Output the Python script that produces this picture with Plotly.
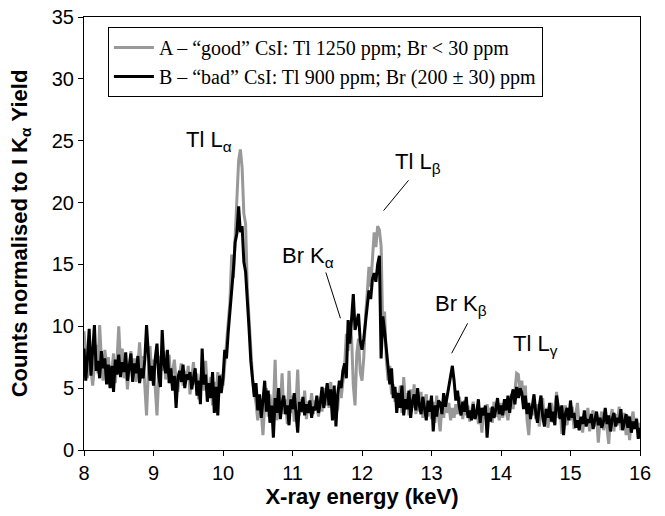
import plotly.graph_objects as go

# ---------------- data ----------------
energy_start = 8.0
energy_step = 0.025
n_points = 321
energy_keV = [round(energy_start + energy_step * i, 3) for i in range(n_points)]

# Sample A - "good" CsI (grey)
counts_A = [
    9.6, 7.3, 5.8, 8.8, 6.5, 5.2, 7.0, 8.5, 6.2, 10.1, 7.4, 5.6, 8.1, 6.7, 7.5, 5.9, 6.3, 7.8, 5.4, 7.2,
    10.0, 6.9, 8.2, 5.8, 7.1, 4.9, 6.6, 8.0, 6.0, 7.4, 5.5, 6.8, 8.7, 6.4, 7.6, 5.3, 2.8, 6.2, 8.4, 6.0,
    7.3, 5.0, 2.8, 5.9, 7.6, 6.4, 8.0, 5.7, 6.9, 7.7, 5.4, 6.5, 7.3, 5.6, 4.7, 6.1, 7.0, 5.2, 6.4, 5.6,
    6.8, 4.5, 6.0, 7.1, 5.3, 6.2, 4.1, 5.7, 6.5, 4.8, 7.2, 5.0, 4.4, 5.9, 3.6, 5.5, 4.2, 6.3, 4.9, 6.1,
    5.2, 6.8, 8.6, 9.8, 12.0, 15.8, 13.9, 17.2, 20.6, 23.4, 24.3, 22.8, 19.1, 18.3, 13.0, 10.2, 7.6, 5.8, 4.6, 3.8,
    2.4, 4.0, 3.1, 1.2, 3.6, 5.0, 2.7, 4.5, 3.2, 3.4, 7.3, 2.4, 4.7, 3.3, 6.2, 2.9, 4.1, 2.1, 6.4, 3.0,
    4.4, 2.3, 3.7, 6.5, 2.8, 4.1, 3.0, 4.8, 2.5, 3.9, 3.3, 4.6, 2.9, 4.0, 3.5, 2.7, 4.3, 3.1, 5.0, 3.6,
    4.8, 3.4, 5.5, 2.9, 4.2, 3.0, 3.3, 5.1, 4.2, 5.4, 6.8, 9.4, 8.0, 10.3, 9.1, 5.2, 3.6, 7.8, 9.0, 6.3,
    5.6, 7.4, 10.8, 12.6, 14.8, 13.2, 16.0, 17.6, 16.4, 18.1, 17.8, 16.5, 9.4, 11.2, 7.3, 5.6, 6.8, 4.5, 5.3, 3.9,
    4.7, 3.6, 5.2, 3.0, 5.9, 3.8, 4.6, 2.8, 4.9, 3.4, 5.3, 2.9, 4.2, 3.1, 4.7, 2.6, 3.9, 4.5, 2.7, 3.8,
    2.5, 3.9, 2.2, 4.4, 2.8, 1.5, 3.6, 2.6, 4.1, 3.0, 3.8, 2.4, 3.4, 2.6, 3.7, 2.9, 4.3, 3.2, 2.5, 4.0,
    2.8, 3.6, 2.3, 3.1, 3.9, 2.6, 3.3, 2.1, 3.0, 1.4, 3.2, 2.5, 3.7, 2.8, 3.4, 2.2, 3.9, 2.7, 3.3, 2.4,
    3.8, 2.6, 4.0, 3.1, 2.4, 3.6, 4.5, 3.3, 5.0, 6.2, 6.1, 4.4, 5.6, 3.6, 5.2, 2.4, 1.2, 3.5, 2.8, 4.0,
    2.5, 3.7, 1.9, 3.0, 4.2, 2.4, 3.4, 1.8, 2.9, 3.8, 2.2, 3.3, 4.7, 2.6, 3.5, 1.3, 2.8, 3.6, 2.0, 3.1,
    2.4, 3.5, 1.7, 2.9, 3.8, 2.1, 2.6, 1.4, 3.0, 2.3, 3.4, 1.5, 2.7, 3.2, 1.9, 2.8, 0.6, 2.4, 3.1, 1.6,
    2.7, 1.8, 0.5, 2.6, 3.3, 1.5, 2.9, 2.0, 3.5, 1.6, 2.5, 3.0, 1.2, 2.8, 0.8, 2.4, 3.1, 1.7, 2.6, 1.4,
    2.2,
]

# Sample B - "bad" CsI (black)
counts_B = [
    8.2, 5.6, 7.5, 9.8, 6.0, 8.6, 10.1, 6.4, 7.2, 5.8, 8.0, 6.6, 7.4, 5.3, 6.9, 5.0, 6.8, 4.7, 7.3, 6.1,
    7.7, 5.9, 7.1, 6.3, 7.9, 5.6, 6.7, 7.8, 5.5, 7.0, 6.2, 7.6, 5.4, 6.6, 5.8, 7.3, 10.1, 8.0, 5.6, 6.8,
    5.2, 7.4, 8.6, 6.0, 5.1, 9.7, 7.0, 6.2, 8.1, 5.4, 6.6, 4.8, 6.0, 3.4, 5.8, 6.4, 5.5, 6.9, 5.0, 6.1,
    5.7, 6.3, 4.9, 5.8, 6.6, 4.4, 5.6, 3.7, 8.2, 5.3, 6.1, 3.9, 5.4, 4.2, 6.3, 3.0, 5.1, 2.8, 6.0, 4.6,
    5.8, 8.1, 7.4, 9.5, 11.2, 12.3, 14.6, 16.8, 17.5, 19.7, 17.6, 18.1, 15.2, 14.4, 11.6, 9.8, 7.2, 6.0, 4.3, 5.4,
    3.2, 4.5, 2.6, 4.0, 5.6, 3.1, 4.8, 2.2, 3.6, 1.0, 4.2, 3.0, 5.0, 2.5, 3.8, 4.4, 2.9, 3.6, 2.0, 4.1,
    3.3, 4.6, 2.7, 1.4, 3.9, 3.1, 4.3, 2.8, 3.7, 3.0, 4.0, 2.6, 3.5, 3.2, 4.4, 3.0, 3.8, 5.1, 3.4, 4.6,
    5.4, 3.6, 4.9, 2.4, 5.2, 1.9, 4.5, 5.6, 5.0, 6.4, 7.0, 5.8, 10.5, 8.6, 10.8, 12.6, 9.7, 10.4, 11.0, 8.8,
    8.1, 9.0, 10.2, 11.6, 12.9, 12.2, 13.8, 14.3, 13.6, 15.0, 15.7, 7.4, 10.8, 9.6, 8.1, 6.2, 5.3, 6.6, 4.2, 5.1,
    3.0, 4.6, 3.4, 5.2, 2.8, 4.1, 3.3, 4.8, 2.6, 3.9, 4.5, 3.2, 5.0, 3.6, 2.9, 4.3, 3.5, 2.4, 4.0, 3.1,
    4.4, 1.5, 3.6, 2.7, 4.0, 3.8, 2.9, 4.6, 3.5, 4.4, 5.3, 5.9, 6.8, 5.6, 4.0, 4.8, 3.5, 2.8, 3.9, 3.1,
    4.3, 2.6, 3.2, 2.4, 3.7, 2.5, 3.0, 4.1, 2.2, 3.4, 2.8, 3.6, 1.0, 3.0, 2.3, 3.5, 2.6, 3.3, 4.2, 2.9,
    3.6, 2.8, 4.1, 3.2, 4.4, 3.0, 4.3, 4.9, 3.7, 5.1, 4.2, 5.0, 4.6, 3.3, 4.4, 2.9, 3.8, 2.5, 3.4, 4.5,
    3.0, 2.2, 3.5, 4.4, 2.7, 1.9, 3.3, 2.6, 3.8, 2.3, 3.1, 2.0, 4.4, 3.2, 2.5, 3.6, 1.2, 2.9, 3.4, 2.4,
    4.0, 2.6, 3.0, 1.8, 2.4, 1.6, 2.7, 2.1, 3.2, 1.9, 2.5, 2.2, 2.9, 1.7, 2.4, 3.1, 2.0, 2.6, 1.8, 2.3,
    3.4, 2.1, 2.8, 1.5, 2.5, 3.0, 1.9, 2.6, 2.2, 3.3, 1.6, 2.4, 2.9, 1.8, 2.7, 1.4, 2.3, 1.7, 2.5, 0.9,
    1.8,
]

series_names = [
    "A \u2013 \u201cgood\u201d CsI: Tl 1250 ppm; Br < 30 ppm",
    "B \u2013 \u201cbad\u201d CsI: Tl 900 ppm; Br (200 \u00b1 30) ppm",
]

peak_labels = ["Tl L<sub>\u03b1</sub>", "Tl L<sub>\u03b2</sub>", "Br K<sub>\u03b1</sub>",
               "Br K<sub>\u03b2</sub>", "Tl L<sub>\u03b3</sub>"]
peak_label_x = [9.8, 12.81, 11.22, 13.42, 14.49]
peak_label_y = [25.0, 23.2, 15.6, 11.7, 8.5]

# leader lines (label -> peak)
leader_x0 = [12.67, 11.48, 13.52]
leader_y0 = [21.8, 14.35, 10.24]
leader_x1 = [12.31, 11.69, 13.29]
leader_y1 = [19.35, 10.65, 7.82]

# ---------------- figure ----------------
SANS = "Liberation Sans, Arial"
fig = go.Figure()
fig.add_trace(go.Scatter(x=energy_keV, y=counts_A, mode="lines", name=series_names[0],
                         line=dict(color="#999999", width=3)))
fig.add_trace(go.Scatter(x=energy_keV, y=counts_B, mode="lines", name=series_names[1],
                         line=dict(color="#000000", width=3)))

for t, x, y in zip(peak_labels, peak_label_x, peak_label_y):
    fig.add_annotation(x=x, y=y, text=t, showarrow=False,
                       font=dict(family=SANS, size=22, color="black"))

for x0, y0, x1, y1 in zip(leader_x0, leader_y0, leader_x1, leader_y1):
    fig.add_shape(type="line", x0=x0, y0=y0, x1=x1, y1=y1, xref="x", yref="y",
                  line=dict(color="black", width=1))

axis_common = dict(showline=True, linecolor="black", linewidth=1, mirror=True,
                   ticks="outside", ticklen=5, tickcolor="black", showgrid=False, zeroline=False,
                   automargin=False,
                   tickfont=dict(family=SANS, size=20, color="black"))

fig.update_xaxes(range=[8, 16], dtick=1, tick0=8,
                 title=dict(text="<b>X-ray energy (keV)</b>", standoff=4,
                            font=dict(family=SANS, size=22, color="black")),
                 **axis_common)
fig.update_yaxes(range=[0, 35], dtick=5, tick0=0,
                 title=dict(text="<b>Counts normalised to I K<sub>\u03b1</sub> Yield</b>", standoff=18,
                            font=dict(family=SANS, size=22, color="black")),
                 **axis_common)

fig.update_layout(
    width=665, height=516,
    margin=dict(l=84, r=25, t=17, b=66),
    paper_bgcolor="white", plot_bgcolor="white",
    showlegend=True,
    legend=dict(x=0.043, y=0.977, xanchor="left", yanchor="top",
                bgcolor="white", bordercolor="black", borderwidth=1,
                itemwidth=40,
                font=dict(family="Liberation Serif, Times New Roman", size=20, color="black"),
                tracegroupgap=0),
)

# remove the default 8 px page margin so the figure fills the window exactly
fig.write_html("out.html",
               config={"displayModeBar": False},
               post_script="document.body.style.margin='0px';document.body.style.overflow='hidden';")
